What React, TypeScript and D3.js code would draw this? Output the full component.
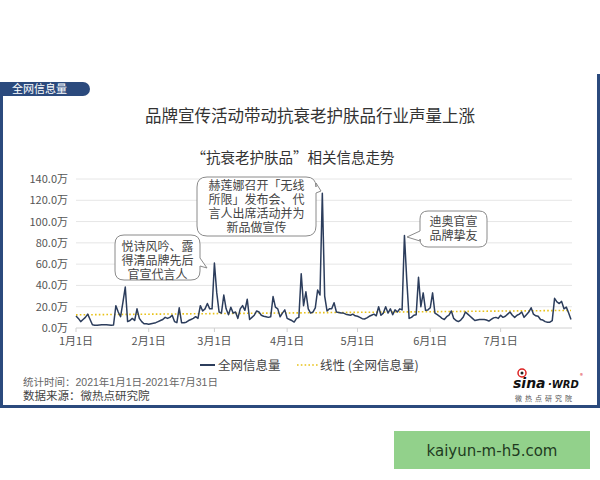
import React from "react";
import * as d3 from "d3";

// ---- data (万) ----
const values: number[] = [
  11.3, 9, 6, 8, 10, 13, 8, 3, 2.5, 2.5, 2.8, 3, 3, 3, 2.8, 2.5, 2.8, 21, 15, 10.6,
  24, 38.5, 6, 7, 9, 7, 18, 9, 6, 4, 4, 3.5, 4, 4.5, 5, 6, 7, 8, 10, 9,
  10, 12, 6, 5, 19, 5, 5, 5.5, 7, 8, 9, 10.6, 9, 21, 16, 18, 23, 18, 18, 61,
  33, 15, 14, 31, 18, 12.5, 19.5, 14, 15, 9, 18, 21, 16.6, 27, 8, 10, 12, 16, 15, 12,
  11, 10.6, 10, 10.6, 29.5, 19.6, 18, 10.6, 14, 17, 9, 8, 7, 5.6, 9, 10, 51, 21, 34, 18,
  14, 15, 19, 35.7, 31, 126.5, 30, 16, 18, 18, 23.8, 15, 14.5, 14, 14, 13, 12.5, 12, 13, 11.5,
  11, 10, 8.8, 8.5, 9.5, 11, 12, 13, 11.5, 20, 12, 14, 20, 14, 18, 12.5, 17, 15, 18, 17,
  87, 45, 9, 10, 12, 12.5, 47.6, 20, 33, 16.6, 17, 19, 33, 14, 12.5, 11, 9, 8, 10.6, 12,
  16, 9, 7, 6, 7.5, 10, 15, 13, 11, 9, 7, 7.5, 8, 8, 8, 7.5, 6.5, 8, 9.5, 10,
  9, 12, 10, 11, 13, 15, 12, 10, 12, 13, 15, 10, 12.5, 15, 19, 13, 11.5, 11, 8, 7.5,
  6, 5.5, 5.5, 7, 27.9, 24.6, 23, 25, 18, 19.6, 14, 8,
];
const startDate = new Date(2021, 0, 1);
const endDate = new Date(2021, 6, 31);
const dates: Date[] = d3.timeDay.range(startDate, d3.timeDay.offset(endDate, 1));
const yTicks: number[] = [0, 20, 40, 60, 80, 100, 120, 140];
const monthTicks: Date[] = d3.timeMonth.range(startDate, d3.timeDay.offset(endDate, 1));

const title = "品牌宣传活动带动抗衰老护肤品行业声量上涨";
const subtitle = "“抗衰老护肤品”相关信息走势";
const tabLabel = "全网信息量";
const seriesName = "全网信息量";
const trendName = "线性 (全网信息量)";
const footer1 = "统计时间：2021年1月1日-2021年7月31日";
const footer2 = "数据来源：微热点研究院";

const notes = [
  { lines: ["悦诗风吟、露", "得清品牌先后", "官宣代言人"] },
  { lines: ["赫莲娜召开「无线", "所限」发布会、代", "言人出席活动并为", "新品做宣传"] },
  { lines: ["迪奥官宣", "品牌挚友"] },
];

const FONT = "'Noto Sans CJK SC', 'Noto Sans', sans-serif";
const TIGHT_FONT = "'Liberation Sans', 'Noto Sans CJK SC', sans-serif";

export default function App() {
  const W = 600, H = 480;
  const x = d3.scaleTime().domain([startDate, endDate]).range([76, 571]);
  const y = d3.scaleLinear().domain([0, 140]).range([328, 179]);

  const data = dates.map((d, i) => ({ d, v: values[i] }));
  const line = d3.line<{ d: Date; v: number }>()
    .x((p) => x(p.d))
    .y((p) => y(p.v));

  // linear trend (least squares)
  const n = values.length;
  const xs = d3.range(n);
  const mx = d3.mean(xs)!;
  const my = d3.mean(values)!;
  let sxy = 0, sxx = 0;
  for (let i = 0; i < n; i++) {
    sxy += (i - mx) * (values[i] - my);
    sxx += (i - mx) * (i - mx);
  }
  const slope = sxy / sxx;
  const icpt = my - slope * mx;
  const t0 = icpt, t1 = icpt + slope * (n - 1);

  const fmt = (v: number) => v.toFixed(1) + "万";
  const mfmt = (d: Date) => `${d.getMonth() + 1}月1日`;

  const navy = "#2c3d5c";
  const frame = "#2b4a7d";

  const callout1 = (() => {
    const x0 = 115, y0 = 235, x1 = 200, y1 = 280, r = 9;
    return `M${x0 + r},${y0} H${x1 - r} Q${x1},${y0} ${x1},${y0 + r} V258 L207,268 L${x1},266 V${y1 - r} Q${x1},${y1} ${x1 - r},${y1} H${x0 + r} Q${x0},${y1} ${x0},${y1 - r} V${y0 + r} Q${x0},${y0} ${x0 + r},${y0} Z`;
  })();
  const callout2 = (() => {
    const x0 = 197, y0 = 177, x1 = 316, y1 = 236, r = 10;
    return `M${x0 + r},${y0} H${x1 - r} Q${x1},${y0} ${x1},${y0 + r} V183 L321,191 L${x1},193 V${y1 - r} Q${x1},${y1} ${x1 - r},${y1} H${x0 + r} Q${x0},${y1} ${x0},${y1 - r} V${y0 + r} Q${x0},${y0} ${x0 + r},${y0} Z`;
  })();
  const callout3 = (() => {
    const x0 = 420, y0 = 211, x1 = 487, y1 = 247, r = 8;
    return `M${x0 + r},${y0} H${x1 - r} Q${x1},${y0} ${x1},${y0 + r} V${y1 - r} Q${x1},${y1} ${x1 - r},${y1} H${x0 + r} Q${x0},${y1} ${x0},${y1 - r} V241 L407,237 L${x0},231 V${y0 + r} Q${x0},${y0} ${x0 + r},${y0} Z`;
  })();

  const multi = (lines: string[], cx: number, y0: number) =>
    lines.map((l, i) => (
      <text key={i} x={cx} y={y0 + i * 14} fontSize={12} fill="#444" textAnchor="middle" fontFamily={TIGHT_FONT}>{l}</text>
    ));

  return (
    <svg width={W} height={H} style={{ position: "absolute", left: 0, top: 0, background: "#fff" }} fontFamily={FONT}>
      <rect x={0} y={0} width={W} height={H} fill="#fff" />
      {/* frame */}
      <rect x={0} y={84} width={3} height={324} fill={frame} />
      <rect x={0} y={405} width={600} height={3} fill={frame} />
      <rect x={597} y={74} width={3} height={334} fill={frame} />
      <path d="M0,82 H83 A7,7 0 0 1 83,96 H0 Z" fill={frame} />
      <text x={12} y={93} fontSize={11} fill="#fff">{tabLabel}</text>

      {/* titles */}
      <text x={310} y={122} fontSize={16.5} fill="#333" textAnchor="middle">{title}</text>
      <text x={293} y={163} fontSize={14.5} fill="#333" textAnchor="middle">{subtitle}</text>

      {/* grid */}
      {yTicks.map((t) => (
        <g key={t}>
          <line x1={76} x2={572} y1={y(t)} y2={y(t)} stroke={t === 0 ? "#d0d0d0" : "#e6e6e6"} strokeWidth={1} />
          <text x={68} y={y(t) + 4} fontSize={11} fill="#555" textAnchor="end">{fmt(t)}</text>
        </g>
      ))}
      {monthTicks.map((m) => (
        <g key={m.getTime()}>
          <line x1={x(m)} x2={x(m)} y1={328} y2={332} stroke="#d0d0d0" />
          <text x={x(m)} y={345} fontSize={11} fill="#555" textAnchor="middle">{mfmt(m)}</text>
        </g>
      ))}

      {/* trend */}
      <line x1={x(startDate)} x2={x(endDate)} y1={y(t0)} y2={y(t1)} stroke="#e8c21a" strokeWidth={1.6} strokeDasharray="1.6,2.2" />
      {/* series */}
      <path d={line(data) || ""} fill="none" stroke={navy} strokeWidth={1.5} strokeLinejoin="round" />

      {/* callouts */}
      <path d={callout1} fill="#fff" stroke="#8a8a8a" strokeWidth={1} />
      {multi(notes[0].lines, 157.5, 251)}
      <path d={callout2} fill="#fff" stroke="#8a8a8a" strokeWidth={1} />
      {multi(notes[1].lines, 256.5, 190)}
      <path d={callout3} fill="#fff" stroke="#8a8a8a" strokeWidth={1} />
      {multi(notes[2].lines, 453.5, 226)}

      {/* legend */}
      <line x1={200} x2={215} y1={365} y2={365} stroke={navy} strokeWidth={2} />
      <text x={218} y={369.5} fontSize={12.5} fill="#444">{seriesName}</text>
      <line x1={297} x2={318} y1={365} y2={365} stroke="#e8c21a" strokeWidth={1.6} strokeDasharray="1.6,2.2" />
      <text x={320} y={369.5} fontSize={12.5} fill="#444">{trendName}</text>

      {/* footer */}
      <text x={23} y={386} fontSize={10.5} fill="#666" fontFamily={TIGHT_FONT}>{footer1}</text>
      <text x={23} y={400} fontSize={11.5} fill="#444" fontFamily={TIGHT_FONT}>{footer2}</text>

      {/* logo */}
      <g>
        <circle cx={522} cy={373} r={4} fill="none" stroke="#d22" strokeWidth={1.5} />
        <circle cx={522} cy={373} r={1.5} fill="#222" />
        <text x={513} y={388} fontSize={14} fontWeight="bold" fontStyle="italic" fill="#111" fontFamily="'DejaVu Sans', sans-serif">sina</text>
        <text x={548} y={388} fontSize={10} fontWeight="bold" fontStyle="italic" fill="#111" fontFamily="'DejaVu Sans', sans-serif">·WRD</text>
        <text x={580} y={378} fontSize={6} fill="#d22">®</text>
        <text x={515} y={401} fontSize={7} fill="#555" letterSpacing={3}>微热点研究院</text>
      </g>

      {/* watermark */}
      <rect x={394} y={431} width={196} height={38} fill="#92d18b" />
      <text x={492} y={456} fontSize={15} fill="#1f3b1f" textAnchor="middle" fontFamily="'DejaVu Sans', sans-serif">kaiyun-m-h5.com</text>
    </svg>
  );
}
